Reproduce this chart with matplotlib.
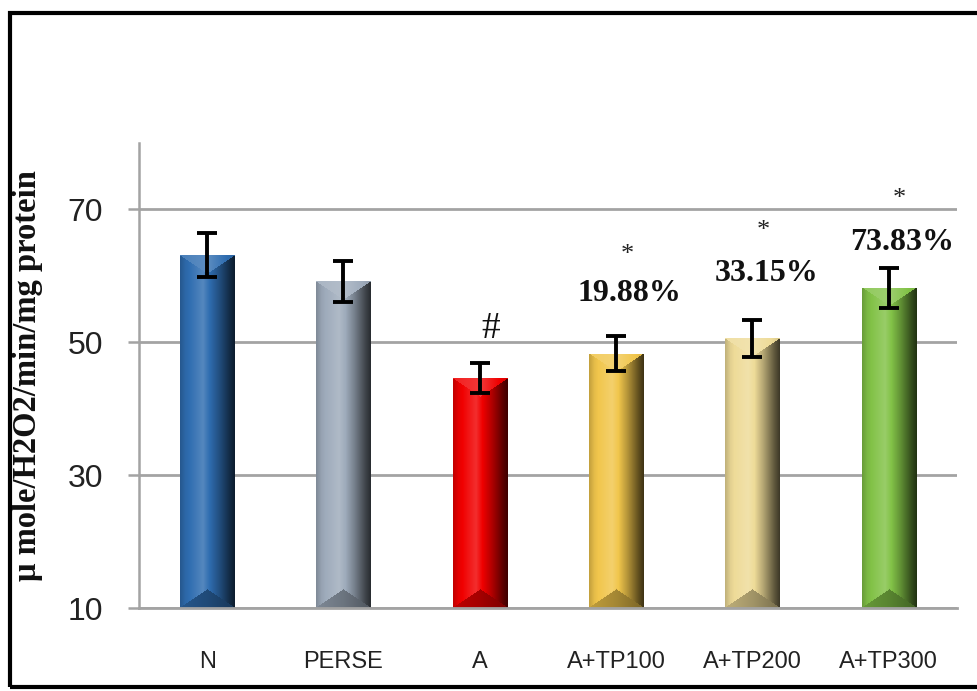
import numpy as np
import matplotlib
matplotlib.use("Agg")
import matplotlib.pyplot as plt
from matplotlib.patches import Rectangle
from matplotlib.colors import to_rgb

# catalase activity per group
groups = ["N", "PERSE", "A", "A+TP100", "A+TP200", "A+TP300"]
means = [63.1, 59.2, 44.6, 48.3, 50.6, 58.2]
errors = [3.3, 3.1, 2.3, 2.6, 2.8, 3.0]
bar_colors = ["#2f6db0", "#9eabbb", "#f00000", "#f1c64c", "#eedb98", "#82c247"]

# significance marks and % change labels: (group index, text, y)
stars = [(3, "*", 63.1), (4, "*", 66.8), (5, "*", 71.6)]
percents = [(3, "19.88%", 57.4), (4, "33.15%", 60.4), (5, "73.83%", 65.0)]
hashes = [(2, "#", 52.0)]

yticks = [10, 30, 50, 70]
ymin, ymax = 10, 80
bar_w = 0.4


def shade(c, f):
    c = np.asarray(c)
    f = np.asarray(f)[..., None]
    dark = c * f
    light = c + (1 - c) * (f - 1)
    return np.where(f < 1, dark, light)


def bevel_image(color, w_px, h_px):
    nx = max(int(round(w_px)), 4)
    ny = max(int(round(h_px)), 4)
    c = np.array(to_rgb(color))
    xs = (np.arange(nx) + 0.5) / nx
    hx = np.interp(xs, [0, 0.1, 0.42, 0.7, 0.9, 1.0], [0.8, 0.95, 1.18, 0.75, 0.4, 0.25])
    img = np.repeat(shade(c, hx)[None, :, :], ny, axis=0)
    # slanted top and bottom faces
    d = nx * 0.33
    rows = np.arange(ny)[:, None]
    tri = d * (1 - np.abs(2 * xs[None, :] - 1))
    top = rows < tri
    bot = (ny - 1 - rows) < tri
    top_col = shade(c, np.interp(xs, [0, 0.5, 1], [1.12, 1.22, 0.9]))
    bot_col = shade(c, np.interp(xs, [0, 0.5, 1], [0.8, 0.68, 0.5]))
    img[top] = np.broadcast_to(top_col[None, :, :], img.shape)[top]
    img[bot] = np.broadcast_to(bot_col[None, :, :], img.shape)[bot]
    return np.clip(img, 0, 1)


fig = plt.figure(figsize=(9.78, 6.91), dpi=100)
ax = fig.add_axes([139 / 978, 1 - 608 / 691, 818 / 978, 465 / 691])

x = np.arange(len(groups))
bars = ax.bar(x, np.array(means) - ymin, bottom=ymin, width=bar_w,
              color=bar_colors, zorder=2)
ax.set_xlim(-0.5, len(groups) - 0.5)
ax.set_ylim(ymin, ymax)

ax_w = 818
ax_h = 465
for b, col, m in zip(bars, bar_colors, means):
    w_px = bar_w * ax_w / len(groups)
    h_px = (m - ymin) * ax_h / (ymax - ymin)
    img = bevel_image(col, w_px, h_px)
    x0 = b.get_x()
    im = ax.imshow(img, extent=(x0, x0 + bar_w, ymin, m), origin="upper",
                   aspect="auto", interpolation="bilinear", zorder=2.5)
    im.set_clip_path(b)

ax.errorbar(x, means, yerr=errors, fmt="none", ecolor="black", elinewidth=2.8,
            capsize=7, capthick=2.8, zorder=4)

for i, t, y in stars:
    ax.text(x[i] + 0.08, y, t, ha="center", va="center", fontsize=19,
            family="Liberation Serif", color="#222222")
for i, t, y in percents:
    ax.text(x[i] + 0.1, y, t, ha="center", va="center", fontsize=23,
            fontweight="bold", family="Liberation Serif", color="#111111")
for i, t, y in hashes:
    ax.text(x[i] + 0.08, y, t, ha="center", va="center", fontsize=27,
            family="Liberation Serif", color="#111111")

grid_c = "#a3a3a3"
ax.set_yticks(yticks)
ax.yaxis.grid(True, color=grid_c, linewidth=2)
ax.set_axisbelow(True)
for s in ["top", "right"]:
    ax.spines[s].set_visible(False)
ax.spines["left"].set_color(grid_c)
ax.spines["left"].set_linewidth(1.8)
ax.spines["bottom"].set_color(grid_c)
ax.spines["bottom"].set_linewidth(2)

ax.tick_params(axis="y", length=8, width=1.8, color=grid_c, pad=18,
               labelsize=23, labelcolor="#222222")
ax.tick_params(axis="x", length=0, pad=31, labelsize=17, labelcolor="#222222")
for lab in ax.get_yticklabels() + ax.get_xticklabels():
    lab.set_family("Liberation Sans")
ax.set_xticks(x)
ax.set_xticklabels(groups)

ax.set_ylabel("\u03bc mole/H2O2/min/mg protein", fontsize=23.5, fontweight="bold",
              family="Liberation Serif", color="#111111")
ax.yaxis.set_label_coords(-0.117, 0.5)

# black frame round the figure
fig.patches.append(Rectangle((9.5 / 978, 4 / 691), 1.0, 1 - 16.5 / 691,
                             transform=fig.transFigure, fill=False,
                             edgecolor="black", linewidth=3, clip_on=True))

fig.savefig("out.png", dpi=100)
